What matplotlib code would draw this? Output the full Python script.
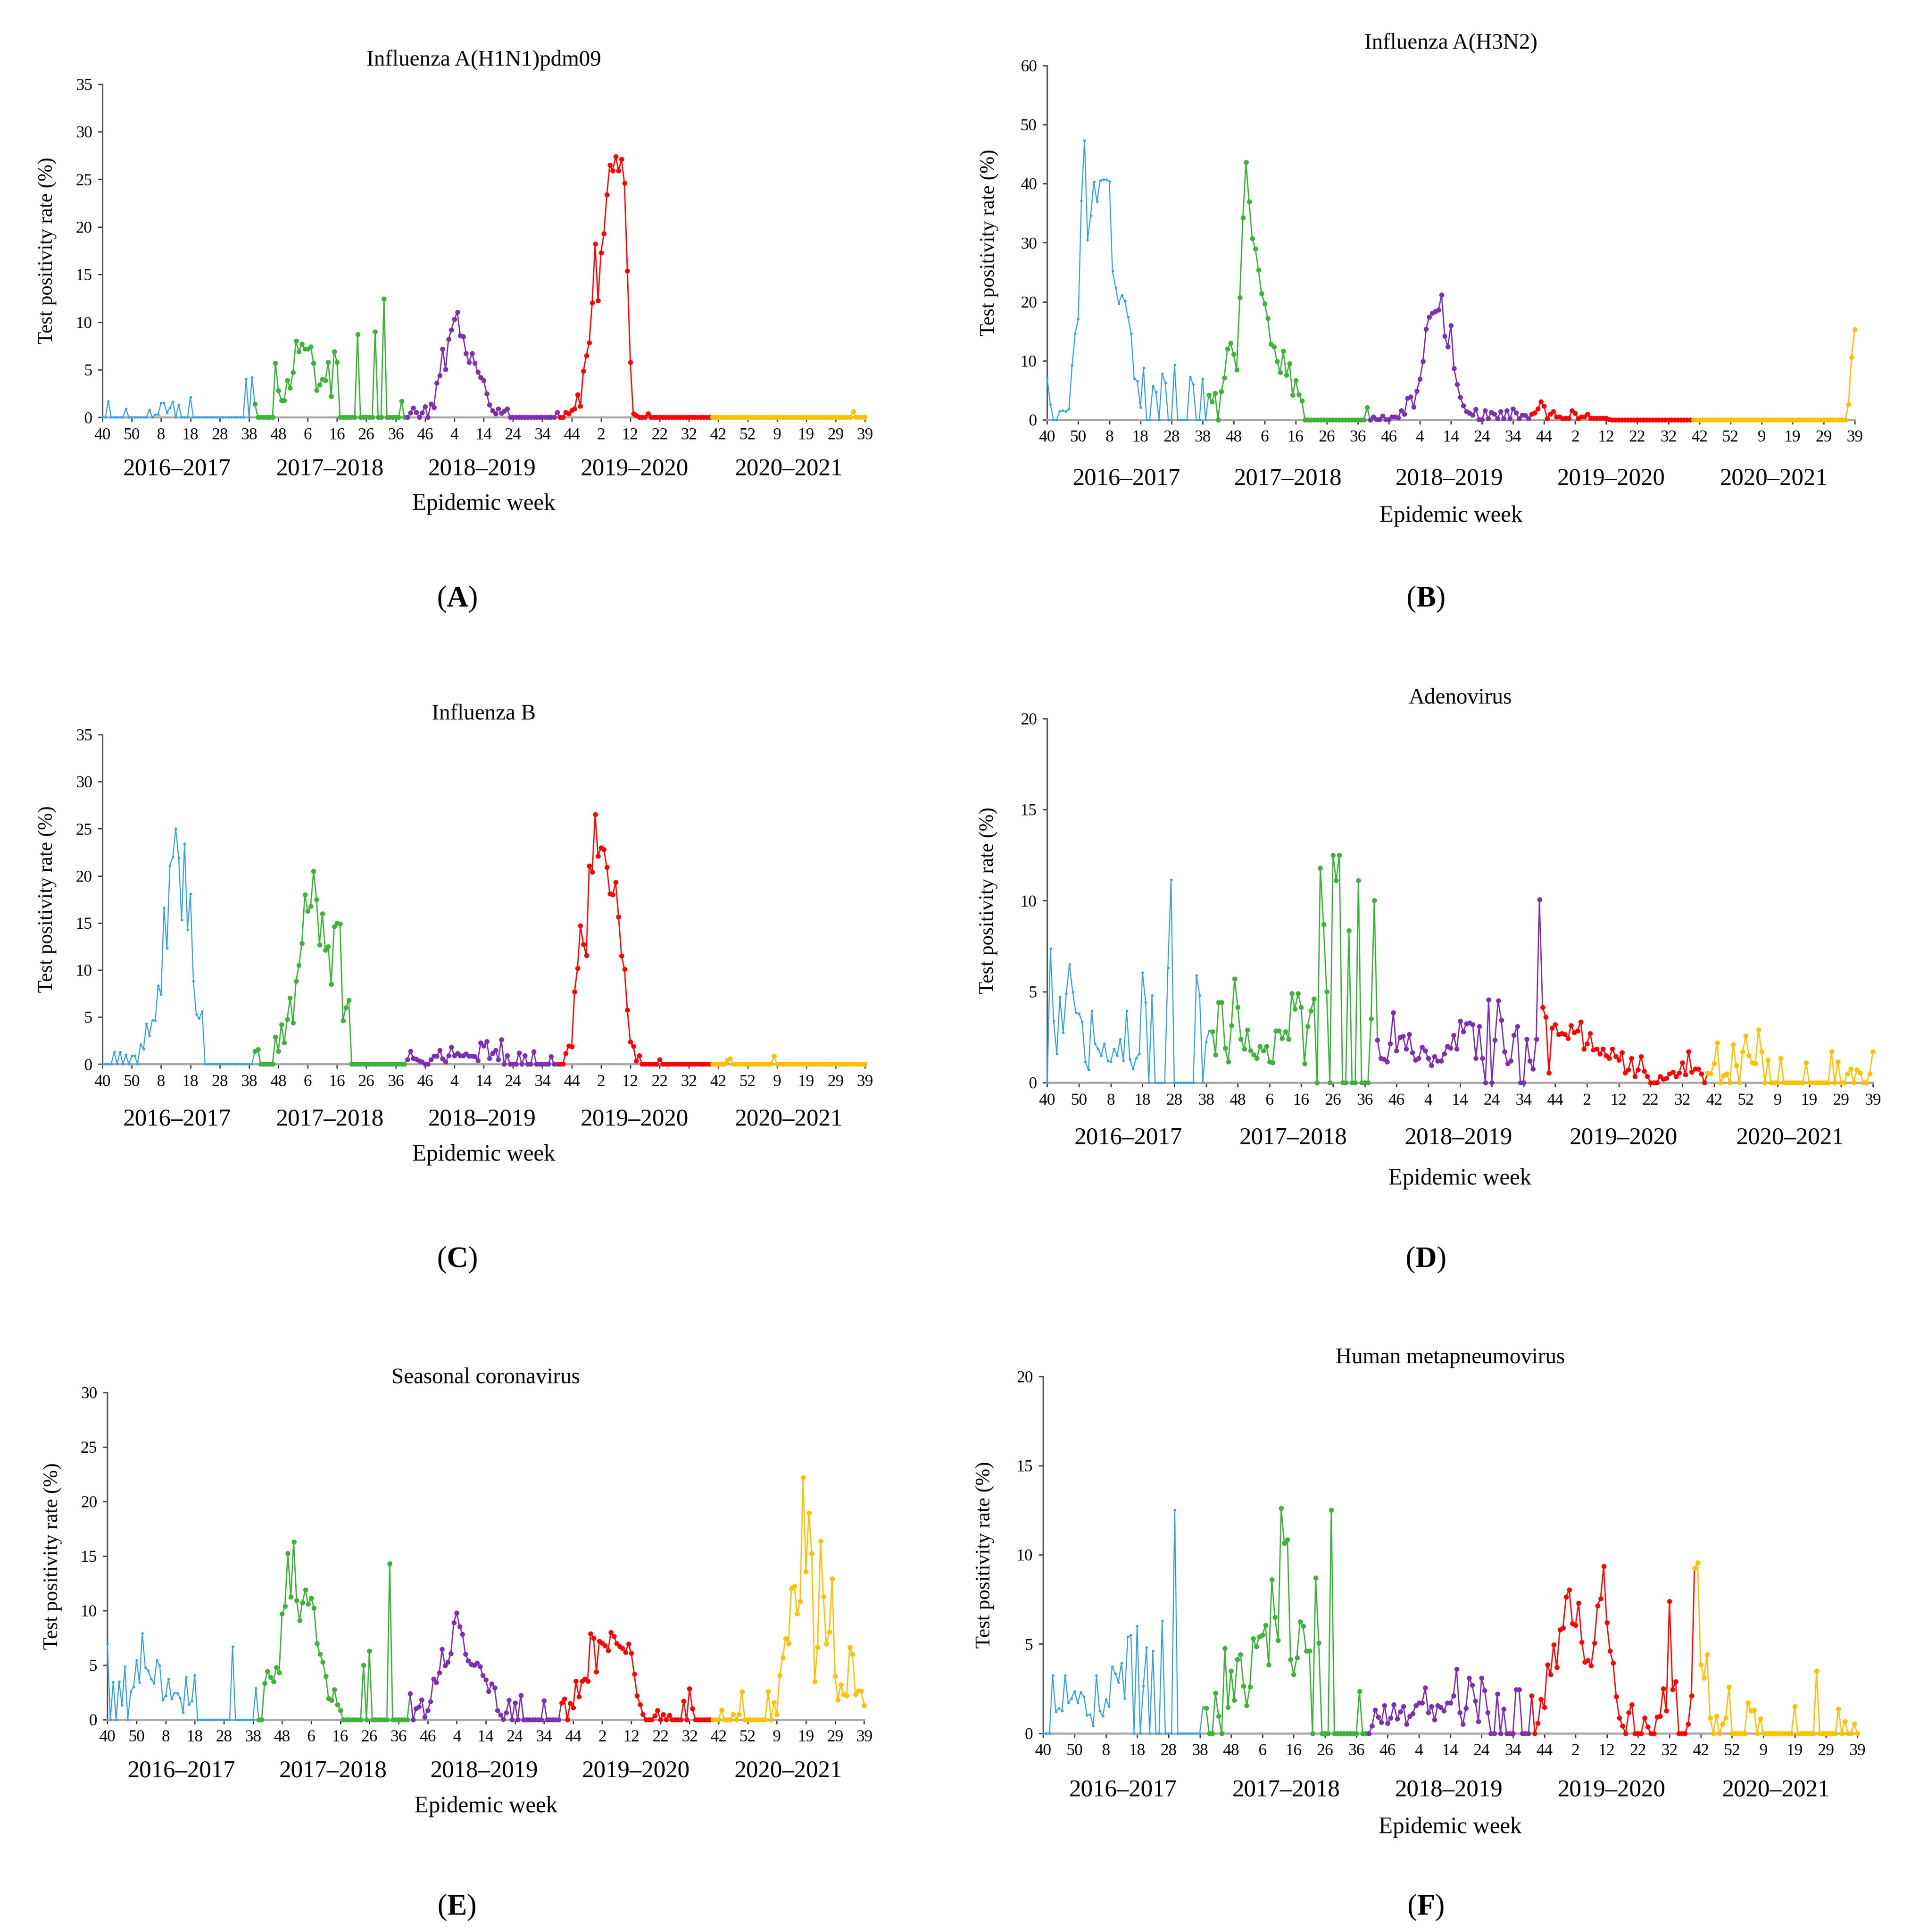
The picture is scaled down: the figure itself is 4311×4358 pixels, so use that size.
import matplotlib.pyplot as plt

plt.rcParams['font.family'] = ['Liberation Serif', 'DejaVu Serif']
plt.rcParams['mathtext.fontset'] = 'custom'
plt.rcParams['mathtext.rm'] = 'Liberation Serif'
plt.rcParams['mathtext.bf'] = 'Liberation Serif:bold'

week_ticks = ['40', '50', '8', '18', '28', '38', '48', '6', '16', '26', '36', '46', '4', '14',
              '24', '34', '44', '2', '12', '22', '32', '42', '52', '9', '19', '29', '39']
seasons = ['2016–2017', '2017–2018', '2018–2019', '2019–2020', '2020–2021']
colors = ['#36a3e0', '#3db33a', '#7d30b0', '#ff0000', '#ffc000']

# ---- A: Influenza A(H1N1)pdm09 ----
h1n1_1617 = [0, 0, 1.7, 0, 0, 0, 0, 0, 0.9, 0,
             0, 0, 0, 0, 0, 0, 0.8, 0, 0.3, 0.3,
             1.5, 1.5, 0.5, 1.0, 1.65, 0, 1.3, 0, 0, 0,
             2.1, 0, 0, 0, 0, 0, 0, 0, 0, 0,
             0, 0, 0, 0, 0, 0, 0, 0, 0, 4.0,
             0, 4.2]
h1n1_1718 = [1.4, 0, 0, 0, 0, 0, 0, 5.7, 2.8, 1.8,
             1.8, 3.9, 3.1, 4.7, 8.0, 6.9, 7.7, 7.2, 7.2, 7.4,
             5.7, 2.85, 3.4, 4.0, 3.9, 5.8, 2.2, 6.9, 5.8, 0,
             0, 0, 0, 0, 0, 8.7, 0, 0, 0, 0,
             0, 9.0, 0, 0, 12.45, 0, 0, 0, 0, 0,
             1.7, 0]
h1n1_1819 = [0, 0.5, 1.0, 0.55, 0, 0.5, 1.15, 0, 1.4, 1.05,
             3.6, 4.4, 7.2, 5.05, 8.2, 9.2, 10.3, 11.05, 8.6, 8.5,
             6.7, 5.8, 6.7, 5.7, 4.75, 4.2, 3.9, 2.5, 1.3, 0.7,
             0.4, 0.9, 0.45, 0.65, 0.9, 0, 0, 0, 0, 0,
             0, 0, 0, 0, 0, 0, 0, 0, 0, 0,
             0, 0.55]
h1n1_1920 = [0, 0, 0.55, 0.4, 0.75, 0.9, 2.4, 1.2, 4.85, 6.5,
             7.85, 12.05, 18.2, 12.25, 17.3, 19.3, 23.4, 26.5, 25.9, 27.4,
             25.9, 27.1, 24.6, 15.4, 5.8, 0.4, 0.2, 0, 0, 0,
             0.4, 0, 0, 0, 0, 0, 0, 0, 0, 0,
             0, 0, 0, 0, 0, 0, 0, 0, 0, 0,
             0, 0]
h1n1_2021 = [0, 0, 0, 0, 0, 0, 0, 0, 0, 0,
             0, 0, 0, 0, 0, 0, 0, 0, 0, 0,
             0, 0, 0, 0, 0, 0, 0, 0, 0, 0,
             0, 0, 0, 0, 0, 0, 0, 0, 0, 0,
             0, 0, 0, 0, 0, 0, 0, 0, 0.6, 0,
             0, 0, 0]

# ---- B: Influenza A(H3N2) ----
h3n2_1617 = [7.1, 2.6, 0, 0, 1.4, 1.6, 1.4, 1.8, 9.2, 14.6,
             17.1, 37.1, 47.3, 30.5, 34.6, 40.3, 36.9, 40.5, 40.7, 40.7,
             40.4, 25.2, 22.4, 19.7, 21.1, 20.1, 17.4, 14.6, 7.0, 6.5,
             2.1, 8.8, 0, 0, 5.7, 4.7, 0, 7.8, 6.3, 0,
             0, 9.3, 0, 0, 0, 0, 7.3, 6.0, 0, 0,
             7.0, 0]
h3n2_1718 = [4.2, 3.1, 4.5, 0, 4.8, 7.1, 12.0, 13.0, 11.1, 8.5,
             20.7, 34.2, 43.6, 36.9, 30.7, 29.0, 25.4, 21.4, 19.7, 17.2,
             12.8, 12.4, 9.9, 8.0, 11.6, 7.6, 9.5, 4.2, 6.7, 4.3,
             3.2, 0, 0, 0, 0, 0, 0, 0, 0, 0,
             0, 0, 0, 0, 0, 0, 0, 0, 0, 0,
             0, 2.1]
h3n2_1819 = [0, 0.5, 0.1, 0.1, 0.7, 0.1, 0.1, 0.5, 0.5, 0.4,
             1.6, 0.95, 3.7, 3.9, 2.2, 4.9, 6.9, 9.9, 15.4, 17.4,
             18.1, 18.4, 18.6, 21.2, 14.2, 12.4, 16.0, 8.7, 6.0, 3.8,
             2.4, 1.4, 1.15, 0.8, 1.8, 0.1, 0.1, 1.6, 0.2, 1.3,
             1.0, 0.2, 1.4, 0.2, 1.6, 0.2, 1.85, 1.2, 0.2, 0.8,
             0.75, 0.2]
h3n2_1920 = [1.0, 1.2, 1.85, 3.1, 2.3, 0.2, 0.95, 1.4, 0.5, 0.5,
             0.2, 0.3, 0.3, 1.6, 1.1, 0.2, 0.5, 0.5, 1.0, 0.3,
             0.3, 0.3, 0.3, 0.3, 0.3, 0.1, 0, 0, 0, 0,
             0, 0, 0, 0, 0, 0, 0, 0, 0, 0,
             0, 0, 0, 0, 0, 0, 0, 0, 0, 0,
             0, 0]
h3n2_2021 = [0, 0, 0, 0, 0, 0, 0, 0, 0, 0,
             0, 0, 0, 0, 0, 0, 0, 0, 0, 0,
             0, 0, 0, 0, 0, 0, 0, 0, 0, 0,
             0, 0, 0, 0, 0, 0, 0, 0, 0, 0,
             0, 0, 0, 0, 0, 0, 0, 0, 0, 0,
             2.6, 10.6, 15.3]

# ---- C: Influenza B ----
flub_1617 = [0, 0, 0, 0, 1.3, 0, 1.3, 0, 1.0, 0,
             0.85, 0.9, 0, 2.1, 1.6, 4.3, 3.05, 4.7, 4.65, 8.35,
             7.4, 16.6, 12.3, 21.1, 22.0, 25.0, 21.9, 15.3, 23.4, 14.3,
             18.1, 8.8, 5.3, 4.85, 5.6, 0, 0, 0, 0, 0,
             0, 0, 0, 0, 0, 0, 0, 0, 0, 0,
             0, 0]
flub_1718 = [1.4, 1.55, 0, 0, 0, 0, 0, 2.9, 1.4, 4.2,
             2.3, 4.75, 7.05, 4.4, 8.8, 10.5, 12.8, 18.0, 16.25, 16.8,
             20.5, 17.5, 12.7, 16.0, 12.1, 12.5, 8.5, 14.6, 15.0, 14.9,
             4.65, 6.0, 6.8, 0, 0, 0, 0, 0, 0, 0,
             0, 0, 0, 0, 0, 0, 0, 0, 0, 0,
             0, 0]
flub_1819 = [0.5, 1.4, 0.65, 0.55, 0.35, 0.25, 0, 0, 0.5, 0.85,
             0.85, 1.5, 0.6, 0.25, 0.9, 1.8, 0.9, 1.15, 0.9, 0.9,
             1.1, 0.85, 0.85, 0.8, 0.4, 2.3, 1.95, 2.4, 0.65, 1.15,
             1.5, 0.5, 2.6, 0, 0.9, 0, 0, 0, 1.2, 0,
             0.9, 0, 0, 1.35, 0, 0, 0, 0, 0, 0.8,
             0, 0]
flub_1920 = [0, 0, 1.15, 1.95, 1.85, 7.7, 10.2, 14.7, 12.75, 11.55,
             21.05, 20.4, 26.5, 22.1, 23.0, 22.8, 20.9, 18.1, 18.0, 19.3,
             15.65, 11.5, 10.1, 5.75, 2.35, 1.9, 0.35, 0.9, 0, 0,
             0, 0, 0, 0, 0.5, 0, 0, 0, 0, 0,
             0, 0, 0, 0, 0, 0, 0, 0, 0, 0,
             0, 0]
flub_2021 = [0, 0, 0, 0, 0, 0.4, 0.6, 0, 0, 0,
             0, 0, 0, 0, 0, 0, 0, 0, 0, 0,
             0, 0.85, 0, 0, 0, 0, 0, 0, 0, 0,
             0, 0, 0, 0, 0, 0, 0, 0, 0, 0,
             0, 0, 0, 0, 0, 0, 0, 0, 0, 0,
             0, 0, 0]

# ---- D: Adenovirus ----
adv_1617 = [0, 7.35, 3.4, 1.6, 4.7, 2.75, 4.9, 6.5, 5.0, 3.85,
            3.8, 3.35, 1.15, 0.7, 3.95, 2.15, 1.85, 1.5, 2.15, 1.2,
            1.15, 1.85, 1.5, 2.4, 1.2, 3.95, 1.3, 0.75, 1.35, 1.6,
            6.05, 4.4, 0, 4.8, 0, 0, 0, 0, 6.3, 11.15,
            0, 0, 0, 0, 0, 0, 0, 5.9, 4.8, 0,
            2.25, 2.85]
adv_1718 = [2.8, 1.55, 4.4, 4.4, 1.9, 1.15, 3.15, 5.7, 4.15, 2.4,
            1.85, 2.9, 1.75, 1.55, 1.35, 2.0, 1.75, 2.0, 1.15, 1.1,
            2.85, 2.85, 2.45, 2.8, 2.4, 4.9, 4.05, 4.9, 4.15, 1.05,
            3.1, 3.95, 4.6, 0, 11.8, 8.7, 5.0, 0, 12.5, 11.1,
            12.5, 0, 0, 8.35, 0, 0, 11.1, 0, 0, 0,
            3.5, 10.0]
adv_1819 = [2.35, 1.35, 1.3, 1.15, 2.15, 3.85, 1.75, 2.5, 2.55, 1.85,
            2.65, 1.65, 1.25, 1.35, 1.95, 1.75, 1.35, 0.95, 1.45, 1.2,
            1.2, 1.6, 2.0, 1.9, 2.6, 1.85, 3.4, 2.8, 3.25, 3.3,
            3.2, 1.35, 3.1, 1.35, 0, 4.55, 0, 2.35, 4.5, 3.45,
            1.7, 1.05, 1.2, 2.6, 3.1, 0, 0, 2.4, 1.2, 0.75,
            2.4, 10.05]
adv_1920 = [4.15, 3.6, 0.55, 3.0, 3.2, 2.65, 2.7, 2.65, 2.45, 3.15,
            2.75, 2.85, 3.35, 1.85, 2.15, 2.7, 1.8, 1.85, 1.6, 1.85,
            1.5, 1.35, 1.85, 1.45, 1.25, 1.65, 0.55, 0.7, 1.35, 0.35,
            0.7, 1.45, 0.65, 0.35, 0, 0, 0, 0.35, 0.2, 0.25,
            0.5, 0.6, 0.35, 0.55, 1.1, 0.45, 1.7, 0.6, 0.75, 0.75,
            0.5, 0]
adv_2021 = [0.55, 0.5, 1.05, 2.2, 0, 0.4, 0.5, 0, 2.1, 0.95,
            0, 1.7, 2.55, 1.5, 1.1, 1.05, 2.9, 1.7, 0, 1.25,
            0, 0, 0, 1.35, 0, 0, 0, 0, 0, 0,
            0, 1.1, 0, 0, 0, 0, 0, 0, 0, 1.7,
            0, 1.15, 0, 0, 0.5, 0.75, 0, 0.7, 0.55, 0,
            0, 0.5, 1.7]

# ---- E: Seasonal coronavirus ----
hcov_1617 = [6.95, 0, 3.45, 0, 3.5, 1.35, 4.9, 0, 2.55, 3.0,
             5.45, 3.4, 7.95, 4.75, 4.5, 3.75, 3.35, 5.45, 4.95, 1.8,
             2.2, 3.75, 1.9, 2.45, 2.45, 2.0, 0.65, 3.9, 1.4, 1.7,
             4.05, 0, 0, 0, 0, 0, 0, 0, 0, 0,
             0, 0, 0, 6.7, 0, 0, 0, 0, 0, 0,
             0, 2.9]
hcov_1718 = [0, 0, 3.35, 4.45, 3.9, 3.5, 4.8, 4.3, 9.7, 10.4,
             15.25, 11.25, 16.3, 10.95, 9.1, 10.75, 11.9, 10.6, 11.15, 10.25,
             7.0, 6.0, 5.3, 4.0, 1.95, 1.8, 2.75, 1.4, 0.85, 0,
             0, 0, 0, 0, 0, 0, 5.0, 0, 6.3, 0,
             0, 0, 0, 0, 0, 14.3, 0, 0, 0, 0,
             0, 0]
hcov_1819 = [2.4, 0, 1.0, 1.2, 1.85, 0.25, 0.85, 1.65, 3.75, 3.4,
             4.3, 6.45, 4.95, 5.3, 6.05, 8.9, 9.8, 8.55, 7.85, 6.0,
             5.4, 5.1, 5.0, 5.2, 4.9, 4.05, 3.65, 2.6, 3.3, 2.95,
             0.85, 0.45, 0.05, 0.65, 1.8, 0, 1.55, 0, 2.25, 0,
             0, 0, 0, 0, 0, 0, 1.75, 0, 0, 0,
             0, 0]
hcov_1920 = [1.55, 1.9, 0, 1.5, 1.1, 3.55, 2.1, 3.55, 3.75, 3.55,
             7.9, 7.5, 4.4, 7.2, 7.05, 6.8, 6.35, 8.0, 7.65, 7.0,
             6.7, 6.55, 6.2, 6.95, 6.1, 4.2, 2.2, 1.4, 0.5, 0,
             0, 0, 0.35, 0.85, 0, 0.5, 0, 0.4, 0, 0,
             0, 0, 1.7, 0, 2.85, 1.0, 0, 0, 0, 0,
             0, 0]
hcov_2021 = [0, 0, 0, 0.9, 0, 0, 0, 0.5, 0, 0.5,
             2.55, 0, 0, 0, 0, 0, 0, 0, 0, 2.6,
             0, 1.6, 0.5, 4.05, 5.7, 7.45, 7.0, 12.05, 12.25, 9.7,
             10.85, 22.2, 13.6, 18.95, 15.25, 3.5, 6.65, 16.4, 11.3, 6.95,
             8.05, 12.95, 4.0, 1.85, 3.2, 2.3, 2.2, 6.65, 6.0, 2.3,
             2.65, 2.65, 1.3]

# ---- F: Human metapneumovirus ----
hmpv_1617 = [0, 0, 0, 3.25, 1.2, 1.4, 1.25, 3.25, 1.7, 1.95,
             2.35, 1.7, 2.3, 2.05, 1.0, 1.05, 0.4, 3.25, 1.25, 0.95,
             1.9, 1.5, 3.75, 3.35, 2.85, 3.95, 1.95, 5.4, 5.5, 0,
             6.0, 0, 2.65, 4.8, 0, 4.6, 0, 0, 6.3, 0,
             0, 0, 12.5, 0, 0, 0, 0, 0, 0, 0,
             0, 1.45]
hmpv_1718 = [1.4, 0, 0, 2.25, 0.95, 0, 4.75, 1.45, 3.5, 1.85,
             4.15, 4.4, 2.65, 1.55, 2.6, 5.3, 4.85, 5.4, 5.5, 6.05,
             3.85, 8.6, 6.5, 5.2, 12.6, 10.65, 10.85, 4.15, 3.3, 4.25,
             6.25, 6.0, 4.6, 4.6, 0, 8.7, 5.05, 0, 0, 0,
             12.5, 0, 0, 0, 0, 0, 0, 0, 0, 2.35,
             0, 0]
hmpv_1819 = [0, 0.4, 1.3, 0.9, 0.6, 1.55, 0.55, 0.85, 1.6, 0.8,
             1.2, 1.5, 0.5, 0.95, 1.1, 1.55, 1.7, 1.7, 2.55, 1.15,
             1.5, 0.75, 1.55, 1.45, 1.25, 1.7, 1.7, 2.1, 3.6, 1.15,
             0.5, 1.4, 3.1, 2.7, 1.8, 0.65, 3.1, 2.4, 1.15, 0,
             0, 2.2, 0, 1.35, 0, 0, 0, 2.45, 2.45, 0,
             0, 0]
hmpv_1920 = [2.1, 0, 0.55, 1.9, 1.45, 3.85, 3.3, 4.95, 3.7, 5.8,
             5.9, 7.65, 8.05, 6.15, 6.05, 7.3, 5.1, 4.0, 4.1, 3.8,
             5.05, 7.15, 7.55, 9.35, 6.2, 4.6, 3.95, 2.05, 0.85, 0.4,
             0, 1.15, 1.6, 0, 0, 0, 0.85, 0.35, 0, 0,
             0.9, 0.95, 2.5, 1.25, 7.4, 2.45, 2.9, 0, 0, 0,
             0.5, 2.1]
hmpv_2021 = [9.25, 9.55, 3.85, 3.1, 4.4, 0.85, 0, 0.95, 0, 0.5,
             0.85, 2.6, 0, 0, 0, 0, 0, 1.7, 1.25, 1.3,
             0, 0.8, 0, 0, 0, 0, 0, 0, 0, 0,
             0, 0, 1.5, 0, 0, 0, 0, 0, 0, 3.5,
             0, 0, 0, 0, 0, 0, 1.35, 0, 0.65, 0,
             0, 0.5, 0]

# title, series, ymax, ystep, axes rect, title pad, season offset, x-label offset
panels = [
    ('Influenza A(H1N1)pdm09', [h1n1_1617, h1n1_1718, h1n1_1819, h1n1_1920, h1n1_2021],
     35, 5, [0.0536, 0.784, 0.399, 0.1725], 10, 28, 47),
    ('Influenza A(H3N2)', [h3n2_1617, h3n2_1718, h3n2_1819, h3n2_1920, h3n2_2021],
     60, 10, [0.548, 0.7827, 0.4225, 0.1834], 9, 32, 52),
    ('Influenza B', [flub_1617, flub_1718, flub_1819, flub_1920, flub_2021],
     35, 5, [0.0536, 0.4492, 0.399, 0.1706], 8, 30, 49),
    ('Adenovirus', [adv_1617, adv_1718, adv_1819, adv_1920, adv_2021],
     20, 5, [0.548, 0.4396, 0.432, 0.1885], 8, 30, 52),
    ('Seasonal coronavirus', [hcov_1617, hcov_1718, hcov_1819, hcov_1920, hcov_2021],
     30, 5, [0.0562, 0.1099, 0.396, 0.1693], 5, 28, 47),
    ('Human metapneumovirus', [hmpv_1617, hmpv_1718, hmpv_1819, hmpv_1920, hmpv_2021],
     20, 5, [0.5459, 0.1029, 0.426, 0.1847], 7, 31, 51),
]
letters = [('A', 0.239, 0.690), ('B', 0.746, 0.690), ('C', 0.239, 0.348),
           ('D', 0.746, 0.348), ('E', 0.239, 0.0128), ('F', 0.746, 0.0128)]

fig = plt.figure(figsize=(4311 / 300, 4358 / 300), dpi=300)

for title, series, ymax, ystep, rect, tpad, s_off, x_off in panels:
    ax = fig.add_axes(rect)
    start = 0
    for k, vals in enumerate(series):
        xs = list(range(start, start + len(vals)))
        lx, ly = list(xs), list(vals)
        if k < len(series) - 1:
            # the joining segment takes the colour of the earlier season
            lx.append(start + len(vals))
            ly.append(series[k + 1][0])
        small = k == 0
        ax.plot(lx, ly, color=colors[k], lw=0.6 if small else 0.7,
                clip_on=False, zorder=3 + k)
        ax.plot(xs, vals, 'o', color=colors[k], ms=1.4 if small else 2.7,
                mew=0, clip_on=False, zorder=3 + k)
        ax.annotate(seasons[k], xy=(start + (len(vals) - 1) / 2, 0),
                    xycoords=('data', 'axes fraction'), xytext=(0, -s_off),
                    textcoords='offset points', ha='center', va='center', fontsize=13)
        start += len(vals)

    ax.set_xlim(0, 260)
    ax.set_ylim(0, ymax)
    ax.set_xticks(range(0, 261, 10))
    ax.set_xticklabels(week_ticks)
    ax.set_yticks(range(0, ymax + 1, ystep))
    ax.tick_params(axis='both', labelsize=9, length=2.5, width=0.7,
                   color='#404040', direction='out', pad=3)
    for side in ['top', 'right']:
        ax.spines[side].set_visible(False)
    ax.spines['left'].set_color('#595959')
    ax.spines['left'].set_linewidth(0.8)
    ax.spines['bottom'].set_color('#a6a6a6')
    ax.spines['bottom'].set_linewidth(1.1)

    ax.set_title(title, fontsize=12, pad=tpad)
    ax.set_ylabel('Test positivity rate (%)', fontsize=11)
    ax.yaxis.set_label_coords(-0.06, 0.5)
    ax.annotate('Epidemic week', xy=(0.5, 0), xycoords='axes fraction',
                xytext=(0, -x_off), textcoords='offset points',
                ha='center', va='center', fontsize=12.5)

for letter, lx, ly in letters:
    fig.text(lx, ly, '($\\mathbf{' + letter + '}$)', ha='center', va='center', fontsize=16)

fig.savefig('out.png', dpi=300, facecolor='white')
